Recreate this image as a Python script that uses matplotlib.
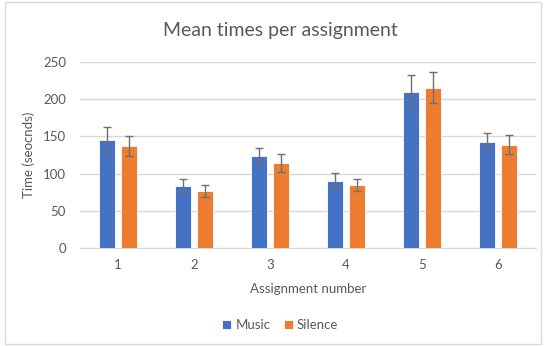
import matplotlib.pyplot as plt
import numpy as np
from matplotlib.patches import Rectangle

plt.rcParams['font.family'] = ['Lato', 'DejaVu Sans']

assignments = ["1", "2", "3", "4", "5", "6"]
music = [145, 84, 123, 90, 210, 142]
music_err = [18, 8.5, 11, 10.5, 22.5, 12]
silence = [137, 77, 114, 85, 215, 139]
silence_err = [13, 8, 12, 8, 21, 12.7]

blue = "#4472C4"
orange = "#ED7D31"
grey = "#595959"

fig = plt.figure(figsize=(5.44, 3.46), dpi=100)
ax = fig.add_axes([0.147, 0.2824, 0.838, 0.5393])

x = np.arange(len(assignments))
w = 0.21
off = 0.145
ax.bar(x - off, music, w, color=blue, edgecolor="white", linewidth=0.6,
       yerr=music_err, capsize=3, error_kw=dict(ecolor="#707070", elinewidth=1, capthick=1),
       label="Music", zorder=3)
ax.bar(x + off, silence, w, color=orange, edgecolor="white", linewidth=0.6,
       yerr=silence_err, capsize=3, error_kw=dict(ecolor="#707070", elinewidth=1, capthick=1),
       label="Silence", zorder=3)

ax.set_xlim(-0.5, len(assignments) - 0.5)
ax.set_ylim(0, 250)
ax.set_yticks(range(0, 251, 50))
ax.set_xticks(x)
ax.set_xticklabels(assignments)
ax.grid(axis="y", color="#D9D9D9", linewidth=1, zorder=0)
for s in ["top", "left", "right"]:
    ax.spines[s].set_visible(False)
ax.spines["bottom"].set_color("#D9D9D9")
ax.tick_params(length=0, colors=grey, labelsize=9.5)
ax.tick_params(axis="y", pad=10)
ax.tick_params(axis="x", pad=8)

fig.suptitle("Mean times per assignment", color=grey, fontsize=14, x=0.515, y=0.935)
ax.set_ylabel("Time (seocnds)", color=grey, fontsize=9.5, labelpad=6)
ax.set_xlabel("Assignment number", color=grey, fontsize=9.5, labelpad=8)

fig.legend(loc="center", bbox_to_anchor=(0.515, 0.06), ncol=2, frameon=False,
           fontsize=9.5, labelcolor=grey, handlelength=0.7, handleheight=0.7,
           handletextpad=0.3, columnspacing=1.0)

fig.patches.append(Rectangle((0.01, 0.005), 0.985, 0.99, transform=fig.transFigure,
                             fill=False, edgecolor="#D9D9D9", linewidth=1))

fig.savefig("out.png", dpi=100, facecolor="white")
